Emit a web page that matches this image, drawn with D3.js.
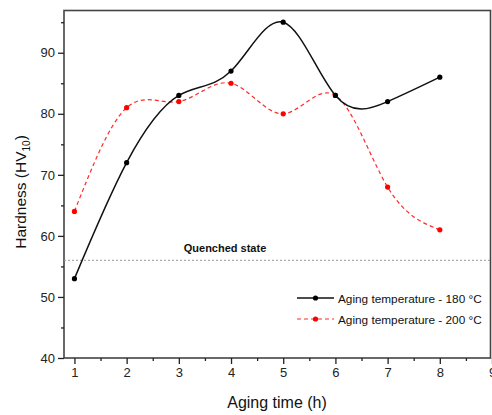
<!DOCTYPE html>
<html>
<head>
<meta charset="utf-8">
<script src="https://cdn.jsdelivr.net/npm/d3@7"></script>
<style>
html,body{margin:0;padding:0;background:#fff;}
text{font-family:"Liberation Sans",Arial,sans-serif;}
</style>
</head>
<body>
<svg id="chart" width="492" height="415"></svg>
<script>
const hours = [1, 2, 3, 4, 5, 6, 7, 8];
const hardness180 = [53, 72, 83, 87, 95, 83, 82, 86];
const hardness200 = [64, 81, 82, 85, 80, 83, 68, 61];
const quenched = 56;
const xTicks = [1, 2, 3, 4, 5, 6, 7, 8, 9];
const yTicks = [40, 50, 60, 70, 80, 90];
const seriesNames = ["Aging temperature - 180 °C", "Aging temperature - 200 °C"];

const svg = d3.select("#chart");
const L = 64, R = 492, T = 10, B = 358;
const x = d3.scaleLinear().domain([0.8, 9]).range([L, R]);
const y = d3.scaleLinear().domain([40, 97]).range([B, T]);

// frame
svg.append("rect").attr("x", L).attr("y", T + 0.5).attr("width", 426.5).attr("height", B - T - 0.5)
  .attr("fill", "none").attr("stroke", "#444").attr("stroke-width", 1.6);

// axes
const xMinor = d3.range(1.5, 9, 1);
const yMinor = d3.range(45, 97, 10);
const gx = svg.append("g").attr("transform", `translate(0,${B})`);
gx.call(d3.axisBottom(x).tickValues(xTicks).tickSize(6).tickPadding(4).tickFormat(d3.format("d")));
gx.append("g").call(d3.axisBottom(x).tickValues(xMinor).tickSize(3).tickFormat(""));
const gy = svg.append("g").attr("transform", `translate(${L},0)`);
gy.call(d3.axisLeft(y).tickValues(yTicks).tickSize(6).tickPadding(3).tickFormat(d3.format("d")));
gy.append("g").call(d3.axisLeft(y).tickValues(yMinor).tickSize(3).tickFormat(""));
svg.selectAll(".domain").remove();
svg.selectAll(".tick line").attr("stroke", "#222").attr("stroke-width", 1.3);
svg.selectAll(".tick text").attr("font-size", 13).attr("fill", "#222")
  .style("font-family", "'Liberation Sans', Arial, sans-serif");

// quenched line
svg.append("line").attr("x1", L).attr("x2", R).attr("y1", y(quenched)).attr("y2", y(quenched))
  .attr("stroke", "#999").attr("stroke-width", 1).attr("stroke-dasharray", "2,2");
svg.append("text").attr("x", 225).attr("y", y(quenched) - 8).attr("text-anchor", "middle")
  .attr("font-size", 11).attr("font-weight", "bold").attr("fill", "#111").text("Quenched state");

const line = d3.line().x((d, i) => x(hours[i])).y(d => y(d)).curve(d3.curveNatural);

svg.append("path").datum(hardness200).attr("d", line).attr("fill", "none")
  .attr("stroke", "#ff2a2a").attr("stroke-width", 1.2).attr("stroke-dasharray", "4,3");
svg.append("path").datum(hardness180).attr("d", line).attr("fill", "none")
  .attr("stroke", "#111").attr("stroke-width", 1.5);

svg.selectAll(".p200").data(hardness200).enter().append("circle")
  .attr("cx", (d, i) => x(hours[i])).attr("cy", d => y(d)).attr("r", 2.6).attr("fill", "#ff0000");
svg.selectAll(".p180").data(hardness180).enter().append("circle")
  .attr("cx", (d, i) => x(hours[i])).attr("cy", d => y(d)).attr("r", 2.6).attr("fill", "#000");

// legend
const lg = svg.append("g");
[0, 1].forEach(k => {
  const ly = 298 + k * 21;
  lg.append("line").attr("x1", 297).attr("x2", 334).attr("y1", ly).attr("y2", ly)
    .attr("stroke", k ? "#ff2a2a" : "#111").attr("stroke-width", k ? 1.2 : 1.5)
    .attr("stroke-dasharray", k ? "4,3" : null);
  lg.append("circle").attr("cx", 315.5).attr("cy", ly).attr("r", 2.6).attr("fill", k ? "#ff0000" : "#000");
  lg.append("text").attr("x", 338).attr("y", ly + 4.5).attr("font-size", 11.8).attr("fill", "#111").text(seriesNames[k]);
});

// axis titles
svg.append("text").attr("x", (L + R) / 2 - 1).attr("y", 408).attr("text-anchor", "middle")
  .attr("font-size", 16).attr("fill", "#111").text("Aging time (h)");
const yl = svg.append("text").attr("transform", "translate(26,192) rotate(-90)").attr("text-anchor", "middle")
  .attr("font-size", 15.5).attr("fill", "#111");
yl.append("tspan").text("Hardness (HV");
yl.append("tspan").attr("font-size", 10).attr("dy", 4).text("10");
yl.append("tspan").attr("dy", -4).text(")");
</script>
</body>
</html>
